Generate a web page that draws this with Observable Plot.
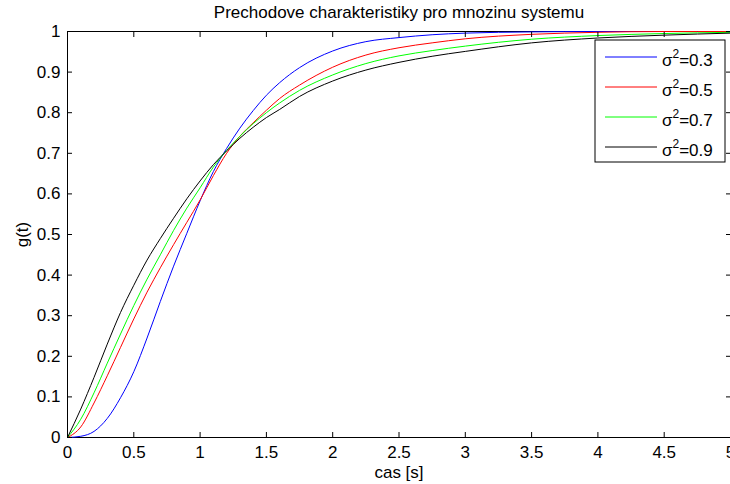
<!DOCTYPE html>
<html>
<head>
<meta charset="utf-8">
<script src="https://cdn.jsdelivr.net/npm/d3@7"></script>
<script src="https://cdn.jsdelivr.net/npm/@observablehq/plot@0.6"></script>
<style>
  body { margin: 0; background: #fff; }
  svg { display: block; }
</style>
</head>
<body>
<div id="chart"></div>
<script>
const title = "Prechodove charakteristiky pro mnozinu systemu";
const xLabel = "cas [s]";
const yLabel = "g(t)";
const xTicks = [0, 0.5, 1, 1.5, 2, 2.5, 3, 3.5, 4, 4.5, 5];
const yTicks = [0, 0.1, 0.2, 0.3, 0.4, 0.5, 0.6, 0.7, 0.8, 0.9, 1];

const seriesNames = ["0.3", "0.5", "0.7", "0.9"];
const seriesColors = ["#0000ff", "#ff0000", "#00ff00", "#000000"];

const t   = [0, 0.1, 0.2, 0.3, 0.4, 0.5, 0.6, 0.7, 0.8, 0.9, 1.0, 1.1, 1.2, 1.3, 1.4, 1.5, 1.6, 1.75, 2.0, 2.25, 2.5, 2.75, 3.0, 3.5, 4.0, 4.5, 5.0];
const g03 = [0, 0.003, 0.015, 0.047, 0.098, 0.162, 0.245, 0.335, 0.422, 0.503, 0.583, 0.655, 0.712, 0.762, 0.805, 0.843, 0.874, 0.911, 0.952, 0.975, 0.985, 0.992, 0.996, 0.999, 1.000, 1.000, 1.000];
const g05 = [0, 0.026, 0.085, 0.152, 0.222, 0.292, 0.358, 0.418, 0.475, 0.530, 0.585, 0.645, 0.700, 0.742, 0.775, 0.806, 0.835, 0.868, 0.912, 0.942, 0.960, 0.972, 0.982, 0.993, 0.998, 1.000, 1.000];
const g07 = [0, 0.045, 0.110, 0.183, 0.255, 0.325, 0.390, 0.450, 0.510, 0.565, 0.615, 0.666, 0.707, 0.742, 0.773, 0.800, 0.824, 0.855, 0.893, 0.921, 0.940, 0.953, 0.964, 0.981, 0.990, 0.995, 0.998];
const g09 = [0, 0.070, 0.148, 0.230, 0.308, 0.375, 0.437, 0.490, 0.540, 0.588, 0.632, 0.672, 0.706, 0.737, 0.764, 0.788, 0.808, 0.840, 0.878, 0.905, 0.924, 0.939, 0.951, 0.972, 0.984, 0.991, 0.996];
const seriesValues = [g03, g05, g07, g09];

const data = [];
seriesValues.forEach((vals, i) => {
  vals.forEach((v, j) => data.push({t: t[j], g: v, s: seriesNames[i]}));
});

const fmt = d => String(d);
const font = "'Liberation Sans', Arial, Helvetica, sans-serif";

const plot = Plot.plot({
  width: 730,
  height: 484,
  marginLeft: 67,
  marginRight: 0,
  marginTop: 31,
  marginBottom: 47,
  style: {fontFamily: font, fontSize: "17px", background: "#fff", color: "#000", overflow: "visible"},
  x: {domain: [0, 5]},
  y: {domain: [0, 1]},
  color: {domain: seriesNames, range: seriesColors},
  marks: [
    Plot.frame({stroke: "#000", strokeWidth: 1}),
    Plot.line(data, {x: "t", y: "g", z: "s", stroke: "s", strokeWidth: 1, curve: "monotone-x"}),
    Plot.axisX({ticks: xTicks, tickSize: -5, tickPadding: 13, tickFormat: fmt, fontSize: 17,
      label: xLabel, labelAnchor: "center", labelArrow: false, labelOffset: 40}),
    Plot.axisX({anchor: "top", ticks: xTicks, tickSize: -5, tickFormat: () => "", label: null}),
    Plot.axisY({ticks: yTicks, tickSize: -5, tickPadding: 12, tickFormat: fmt, fontSize: 17,
      label: yLabel, labelAnchor: "center", labelArrow: false, labelOffset: 52}),
    Plot.axisY({anchor: "right", ticks: yTicks, tickSize: -5, tickFormat: () => "", label: null}),
    Plot.text([title], {frameAnchor: "top", dy: -14, lineAnchor: "bottom", fontSize: 17})
  ]
});

document.getElementById("chart").appendChild(plot);

// Legend (MATLAB-style box, top right)
const svg = d3.select(plot);
const lg = svg.append("g").attr("font-family", font).attr("font-size", 17).attr("text-anchor", "start");
lg.append("rect").attr("x", 595).attr("y", 40).attr("width", 130).attr("height", 122)
  .attr("fill", "#fff").attr("stroke", "#000").attr("stroke-width", 1);
seriesNames.forEach((name, i) => {
  const y = 57 + i * 30;
  lg.append("line").attr("x1", 605).attr("x2", 657).attr("y1", y).attr("y2", y)
    .attr("stroke", seriesColors[i]).attr("stroke-width", 1);
  const tx = lg.append("text").attr("x", 662).attr("y", y + 9).attr("fill", "#000");
  tx.append("tspan").text("σ");
  tx.append("tspan").attr("font-size", 12).attr("dy", -8).text("2");
  tx.append("tspan").attr("dy", 8).text("=" + name);
});
</script>
</body>
</html>
